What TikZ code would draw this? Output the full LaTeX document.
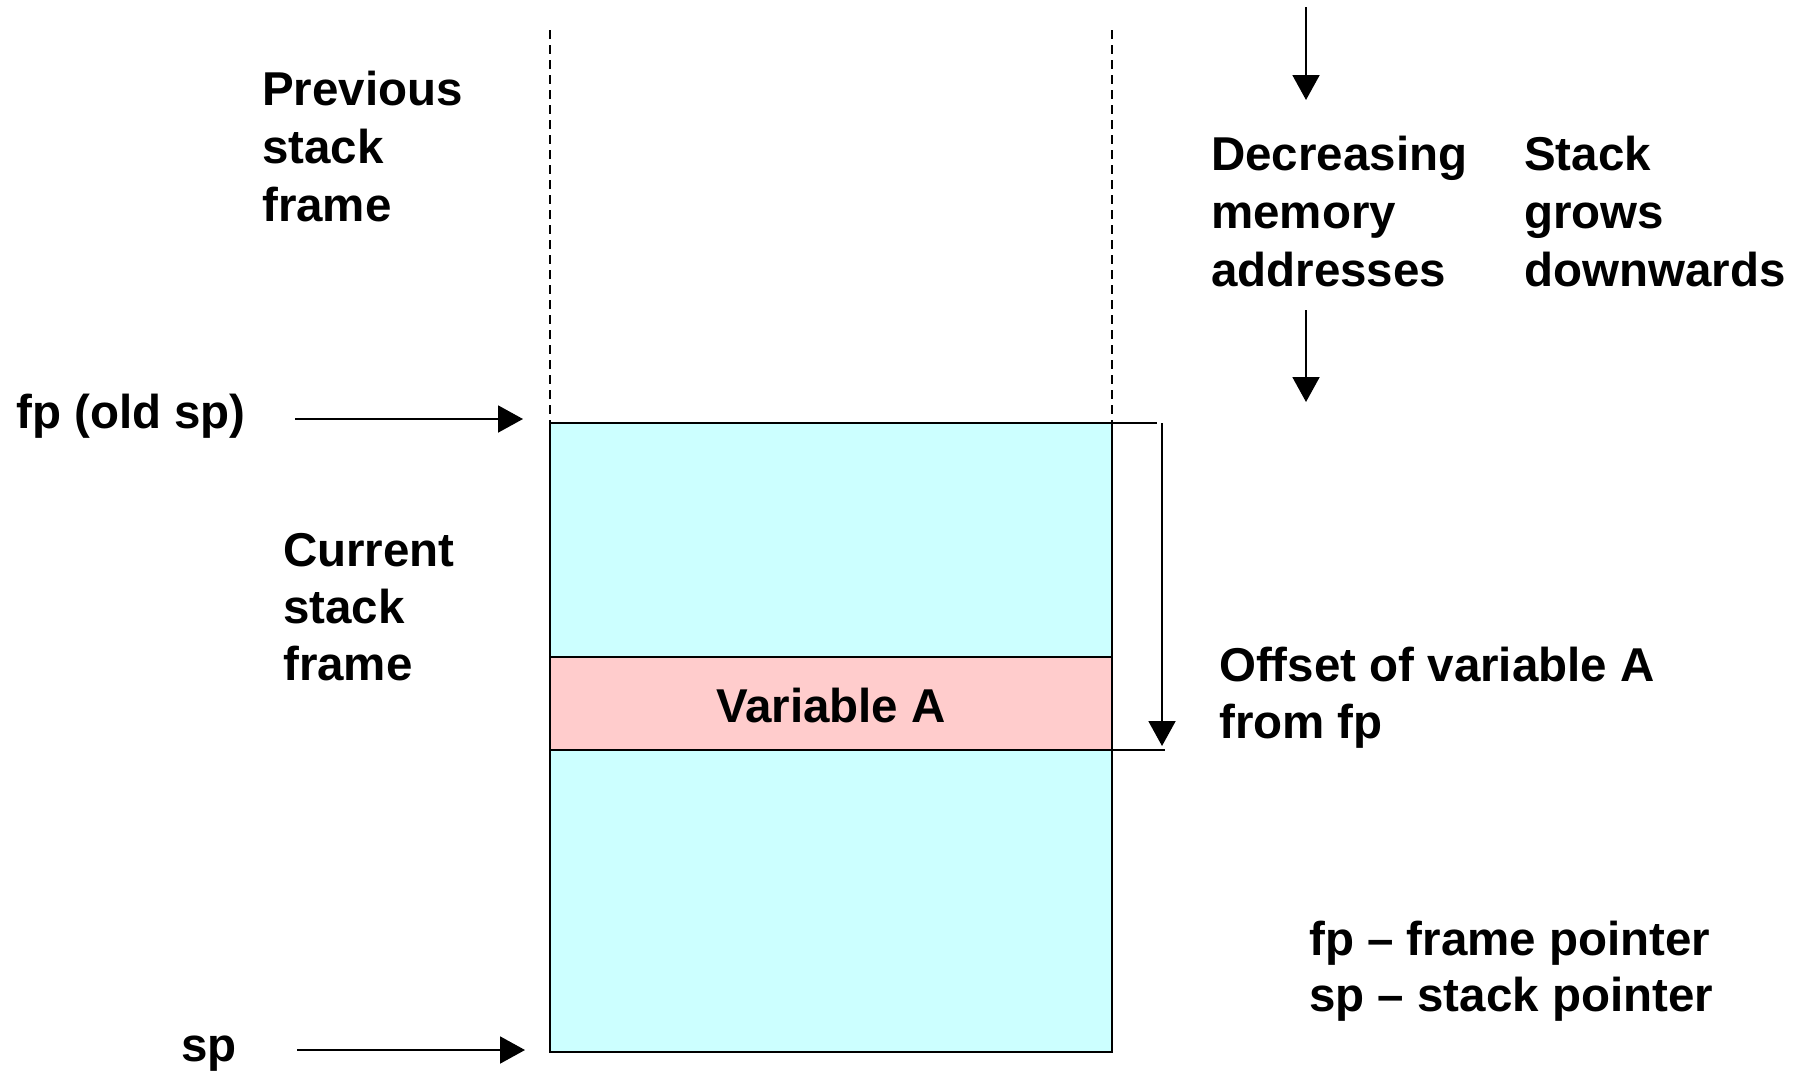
\documentclass[tikz,border=0pt]{standalone}
\usepackage{fontspec}
\setmainfont{Liberation Sans}
\usetikzlibrary{arrows.meta}
\definecolor{framecyan}{HTML}{CCFFFF}
\definecolor{varpink}{HTML}{FFCCCC}
\newcommand\lblstrut{\rule{0pt}{40pt}}
\tikzset{
  lbl/.style={font=\fontsize{47.5}{#1}\selectfont\bfseries, align=left, inner sep=0pt, anchor=north west},
  lbl/.default=58,
  ptr/.style={line width=2pt, -{Triangle[length=25pt,width=27pt]}},
  thin rule/.style={line width=2pt},
  guide/.style={line width=1.6pt, dash pattern=on 9pt off 6pt},
  memblock/.style={draw, line width=2pt}
}
\begin{document}
\begin{tikzpicture}[x=1pt,y=-1pt]
\useasboundingbox (0,0) rectangle (1793,1071);
% stack frame blocks
\draw[memblock, fill=framecyan] (550,423) rectangle (1112,1052);
\draw[memblock, fill=varpink] (550,657) rectangle (1112,750);
\node (varA) [font=\fontsize{47.5}{57}\selectfont\bfseries, inner sep=0pt, anchor=base] at (831,722) {Variable A};
% dashed guides of previous frame
\coordinate (gl0) at (550,30); \coordinate (gl1) at (550,423);
\coordinate (gr0) at (1112,30); \coordinate (gr1) at (1112,423);
\draw[guide] (gl0) -- (gl1);
\draw[guide] (gr0) -- (gr1);
% labels
\node (prev) [lbl] at (262,65) {\lblstrut Previous\\stack\\frame};
\node (fpold) [lbl] at (16,388) {\lblstrut fp (old sp)};
\node (cur) [lbl=57] at (283,526) {\lblstrut Current\\stack\\frame};
\node (dec) [lbl] at (1211,130) {\lblstrut Decreasing\\memory\\addresses};
\node (grow) [lbl] at (1524,130) {\lblstrut Stack\\grows\\downwards};
\node (off) [lbl=57] at (1219,641) {\lblstrut Offset of variable A\\from fp};
\node (legend) [lbl=56] at (1309,915) {\lblstrut fp – frame pointer\\sp – stack pointer};
\node (splbl) [lbl] at (181,1021) {\lblstrut sp};
% pointer arrows
\coordinate (fpS) at (295,419); \coordinate (fpE) at (523,419);
\draw[ptr] (fpS) -- (fpE);
\coordinate (spS) at (297,1050); \coordinate (spE) at (525,1050);
\draw[ptr] (spS) -- (spE);
% offset dimension
\coordinate (o1) at (1112,423); \coordinate (o2) at (1157,423);
\coordinate (o3) at (1112,750); \coordinate (o4) at (1165,750);
\coordinate (oS) at (1162,423); \coordinate (oE) at (1162,746);
\draw[thin rule] (o1) -- (o2);
\draw[thin rule] (o3) -- (o4);
\draw[ptr] (oS) -- (oE);
% decreasing addresses arrows
\coordinate (d1S) at (1306,7); \coordinate (d1E) at (1306,100);
\coordinate (d2S) at (1306,310); \coordinate (d2E) at (1306,402);
\draw[ptr] (d1S) -- (d1E);
\draw[ptr] (d2S) -- (d2E);
\end{tikzpicture}
\end{document}
